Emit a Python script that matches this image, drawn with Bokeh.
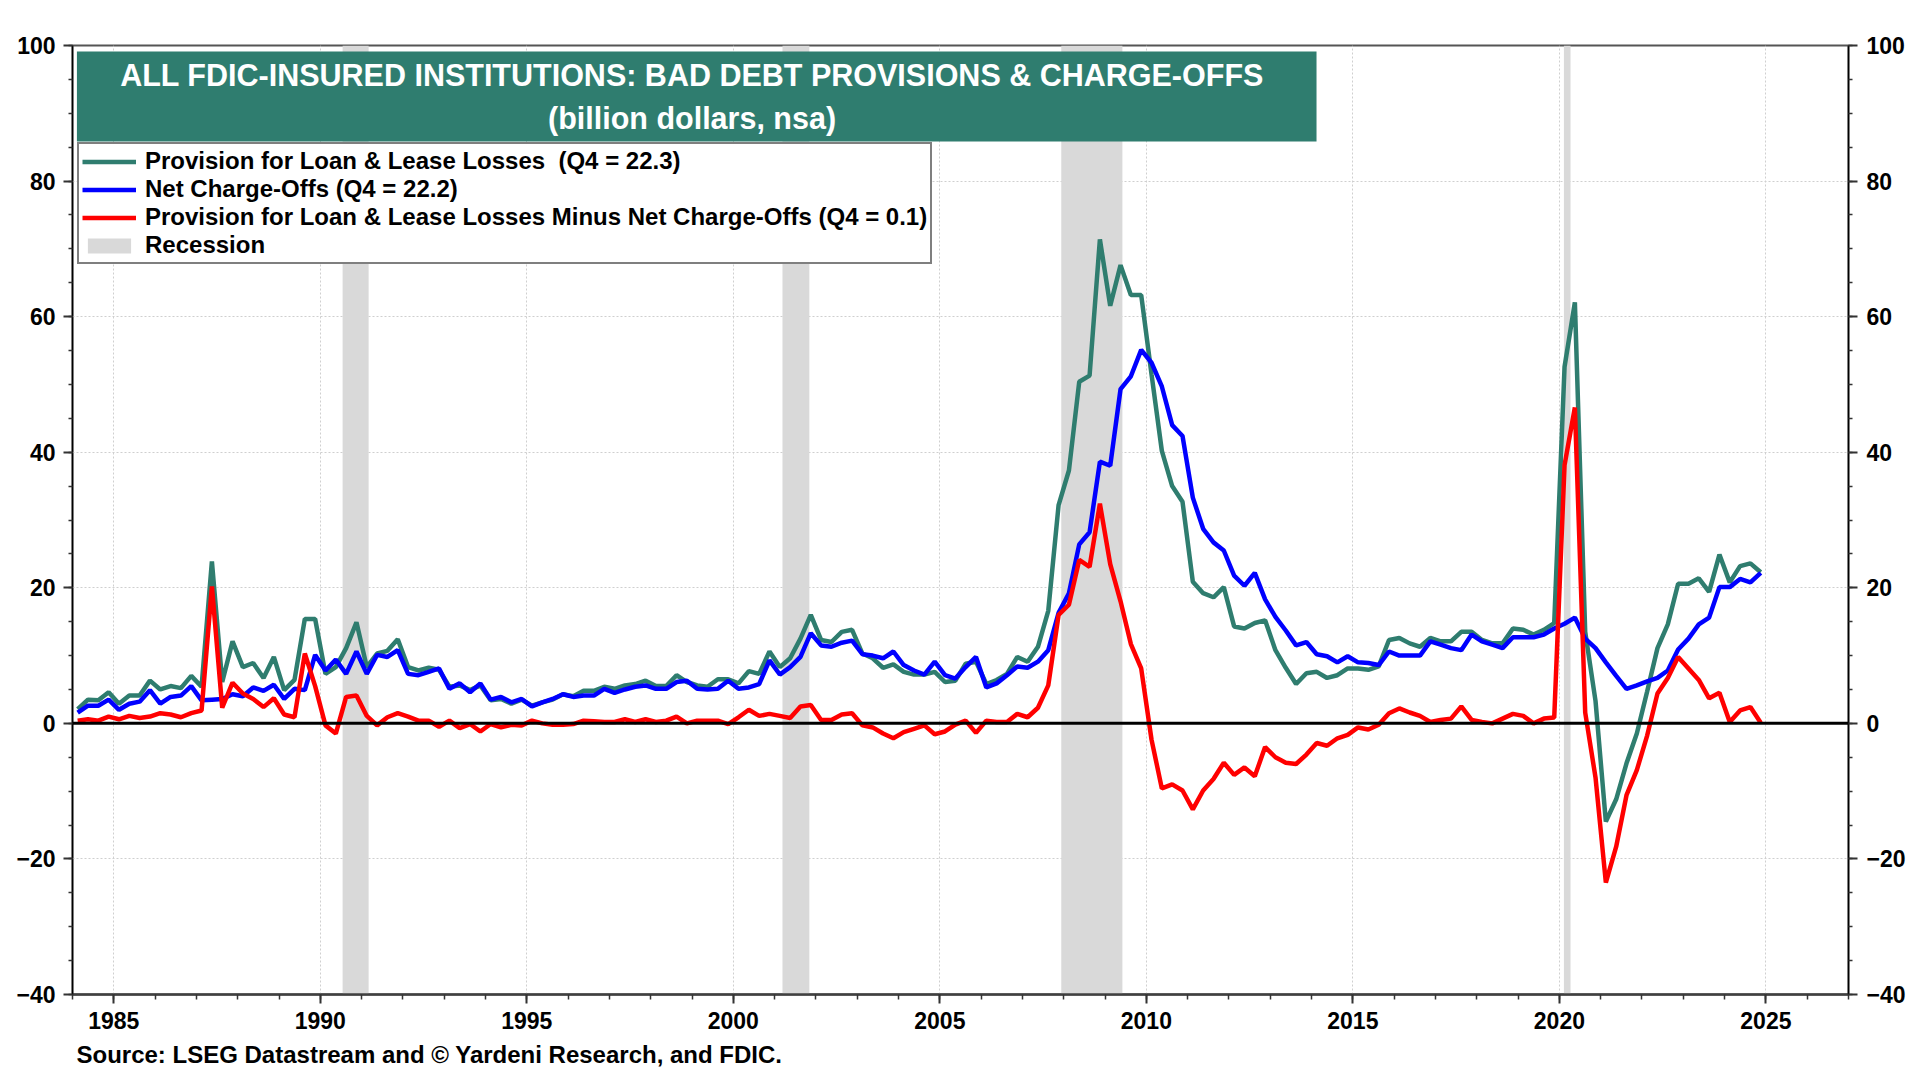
from bokeh.plotting import figure
from bokeh.models import (Range1d, LinearAxis, FixedTicker, Span, BoxAnnotation,
                          Label, Legend, LegendItem, ColumnDataSource, Title)
from bokeh.embed import file_html
from bokeh.resources import INLINE

# ---------------- data (billion dollars, quarterly 1984Q1 .. 2024Q4) ----------------
start_year = 1984
quarters = [f"{start_year + i // 4}Q{i % 4 + 1}" for i in range(164)]

provision = [
    2.1, 3.5, 3.4, 4.6, 2.9, 4.1, 4.1, 6.3, 5.0, 5.5, 5.2, 7.0, 5.4, 23.9, 6.1, 12.1,
    8.3, 8.9, 6.7, 9.8, 4.9, 6.4, 15.4, 15.4, 7.3, 8.3, 11.1, 14.9, 8.3, 10.3, 10.7, 12.4,
    8.3, 7.8, 8.2, 7.9, 5.4, 5.6, 4.9, 5.6, 3.4, 3.6, 2.9, 3.5, 2.6, 3.1, 3.5, 4.3,
    4.0, 4.8, 4.8, 5.4, 5.1, 5.6, 5.8, 6.3, 5.5, 5.5, 7.1, 6.1, 5.6, 5.4, 6.5, 6.5,
    5.9, 7.7, 7.3, 10.6, 8.3, 9.6, 12.5, 16.0, 12.3, 12.0, 13.5, 13.8, 10.3, 9.6, 8.2, 8.7,
    7.6, 7.2, 7.2, 7.6, 6.1, 6.3, 8.8, 9.1, 5.8, 6.4, 7.3, 9.8, 9.1, 11.3, 16.6, 32.2,
    37.3, 50.4, 51.3, 71.4, 61.6, 67.6, 63.2, 63.2, 51.5, 40.2, 35.0, 32.7, 20.9, 19.2, 18.6, 20.1,
    14.3, 14.0, 14.8, 15.2, 10.8, 8.2, 5.8, 7.4, 7.6, 6.7, 7.1, 8.1, 8.1, 7.9, 8.4, 12.3,
    12.6, 11.8, 11.3, 12.6, 12.1, 12.1, 13.5, 13.5, 12.3, 11.8, 11.8, 14.0, 13.8, 13.1, 13.8, 14.8,
    52.6, 62.1, 13.5, 3.3, -14.5, -11.2, -5.9, -1.5, 4.7, 11.1, 14.6, 20.6, 20.6, 21.4, 19.4, 24.9,
    20.8, 23.2, 23.6, 22.3,
]

charge_offs = [
    1.6, 2.6, 2.6, 3.5, 2.0, 2.9, 3.2, 4.9, 2.9, 3.9, 4.1, 5.5, 3.4, 3.5, 3.6, 4.3,
    4.0, 5.3, 4.8, 5.7, 3.6, 5.1, 4.9, 10.1, 7.8, 9.4, 7.3, 10.6, 7.3, 10.1, 9.8, 10.8,
    7.3, 7.1, 7.6, 8.1, 5.1, 5.9, 4.6, 5.9, 3.5, 3.9, 3.1, 3.6, 2.5, 3.1, 3.6, 4.3,
    3.9, 4.1, 4.1, 5.1, 4.5, 5.0, 5.4, 5.6, 5.1, 5.1, 6.1, 6.3, 5.1, 5.0, 5.1, 6.3,
    5.1, 5.3, 5.8, 9.3, 7.2, 8.3, 9.8, 13.3, 11.5, 11.3, 11.9, 12.2, 10.2, 10.0, 9.6, 10.6,
    8.6, 7.8, 7.2, 9.1, 7.1, 6.6, 8.3, 9.8, 5.3, 5.9, 7.1, 8.4, 8.2, 9.1, 10.8, 16.3,
    19.2, 26.4, 28.2, 38.6, 38.0, 49.3, 51.2, 55.1, 53.2, 49.7, 44.0, 42.4, 33.3, 28.7, 26.7, 25.5,
    21.8, 20.3, 22.2, 18.3, 15.7, 13.7, 11.5, 12.0, 10.2, 9.9, 9.0, 9.9, 9.0, 8.9, 8.6, 10.6,
    10.0, 10.0, 10.0, 12.1, 11.6, 11.1, 10.8, 13.1, 12.1, 11.6, 11.1, 12.7, 12.7, 12.7, 13.1, 14.0,
    14.7, 15.6, 12.5, 11.1, 9.0, 7.0, 5.1, 5.6, 6.2, 6.7, 7.8, 10.9, 12.5, 14.6, 15.6, 20.1,
    20.1, 21.3, 20.8, 22.2,
]

difference = [
    0.4, 0.6, 0.4, 1.0, 0.6, 1.1, 0.8, 1.0, 1.5, 1.3, 0.9, 1.5, 1.9, 20.2, 2.3, 6.0,
    4.4, 3.6, 2.4, 3.7, 1.3, 0.9, 10.3, 5.5, -0.3, -1.5, 3.9, 4.1, 1.1, -0.3, 0.9, 1.5,
    1.0, 0.4, 0.4, -0.5, 0.4, -0.7, -0.1, -1.2, -0.1, -0.6, -0.2, -0.3, 0.4, 0.0, -0.2, -0.2,
    -0.1, 0.4, 0.3, 0.2, 0.2, 0.6, 0.2, 0.6, 0.2, 0.4, 1.0, 0.0, 0.4, 0.4, 0.4, -0.1,
    0.9, 2.0, 1.1, 1.4, 1.1, 0.8, 2.5, 2.7, 0.5, 0.5, 1.3, 1.5, -0.3, -0.6, -1.5, -2.2,
    -1.3, -0.8, -0.3, -1.6, -1.2, -0.2, 0.4, -1.4, 0.4, 0.2, 0.2, 1.4, 0.9, 2.3, 5.6, 16.0,
    17.5, 24.1, 23.1, 32.4, 23.5, 18.0, 11.7, 8.1, -2.4, -9.6, -9.0, -9.9, -12.7, -9.9, -8.2, -5.8,
    -7.6, -6.5, -7.8, -3.5, -5.0, -5.8, -6.0, -4.6, -2.9, -3.3, -2.2, -1.7, -0.6, -0.9, -0.2, 1.5,
    2.2, 1.6, 1.1, 0.2, 0.5, 0.7, 2.5, 0.5, 0.2, 0.0, 0.7, 1.4, 1.1, 0.0, 0.7, 0.85,
    38.1, 46.6, 1.6, -8.0, -23.5, -18.2, -10.6, -6.9, -1.8, 4.4, 6.7, 9.8, 8.1, 6.4, 3.7, 4.5,
    0.2, 1.9, 2.4, 0.1,
]

# recessions (decimal years)
rec_start = [1990.54, 2001.19, 2007.94, 2020.11]
rec_end = [1991.17, 2001.84, 2009.42, 2020.27]

x_tick_years = [1985, 1990, 1995, 2000, 2005, 2010, 2015, 2020, 2025]
y_ticks = [-40, -20, 0, 20, 40, 60, 80, 100]

legend_labels = [
    "Provision for Loan & Lease Losses  (Q4 = 22.3)",
    "Net Charge-Offs (Q4 = 22.2)",
    "Provision for Loan & Lease Losses Minus Net Charge-Offs (Q4 = 0.1)",
    "Recession",
]
title_line1 = "ALL FDIC-INSURED INSTITUTIONS: BAD DEBT PROVISIONS & CHARGE-OFFS"
title_line2 = "(billion dollars, nsa)"
source_text = "Source: LSEG Datastream and \u00a9 Yardeni Research, and FDIC."

# ---------------- styling ----------------
FONT = "Liberation Sans"
TEAL = "#2F7D6F"
BLUE = "#0000FF"
RED = "#FF0000"
REC = "#D9D9D9"

def qpos(q):
    y, n = q.split("Q")
    return int(y) + (int(n) - 1) / 4 + 0.125

xs = [qpos(q) for q in quarters]
src = ColumnDataSource(dict(x=xs, prov=provision, nco=charge_offs, diff=difference))
rec_src = ColumnDataSource(dict(left=rec_start, right=rec_end,
                                bottom=[-40] * len(rec_start), top=[100] * len(rec_start)))

p = figure(width=1920, height=1080, x_range=Range1d(1984, 2027), y_range=Range1d(-40, 100),
           output_backend="svg", toolbar_location=None,
           min_border_left=72, min_border_right=72, min_border_top=45, min_border_bottom=86,
           background_fill_color="white", border_fill_color="white")

p.outline_line_color = "#555555"
p.outline_line_width = 2

# grids
p.xgrid.ticker = FixedTicker(ticks=x_tick_years)
p.ygrid.ticker = FixedTicker(ticks=y_ticks)
for g in (p.xgrid, p.ygrid):
    g.grid_line_color = "#CFCFCF"
    g.grid_line_dash = "2 2"
    g.grid_line_width = 1

def style_axis(ax):
    ax.major_label_text_font = FONT
    ax.major_label_text_font_style = "bold"
    ax.major_label_text_font_size = "23px"
    ax.major_label_text_color = "black"
    ax.major_tick_in = 0
    ax.minor_tick_in = 0
    ax.major_tick_line_color = "#333333"
    ax.minor_tick_line_color = "#333333"
    ax.major_tick_line_width = 2
    ax.minor_tick_line_width = 1.5

# bottom axis
xax = p.xaxis[0]
xax.ticker = FixedTicker(ticks=x_tick_years, minor_ticks=list(range(1984, 2028)))
style_axis(xax)
xax.major_tick_out = 9
xax.minor_tick_out = 5
xax.major_label_standoff = 8
xax.axis_line_color = "#404040"
xax.axis_line_width = 2.5

# source note below the x axis
p.add_layout(Title(text=source_text, align="left", offset=4, standoff=14,
                   text_font=FONT, text_font_style="bold", text_font_size="24px",
                   text_color="black"), "below")

# left axis
yax = p.yaxis[0]
yax.ticker = FixedTicker(ticks=y_ticks, minor_ticks=list(range(-40, 101, 5)))
style_axis(yax)
yax.major_tick_out = 9
yax.minor_tick_out = 4
yax.major_label_standoff = 8
yax.axis_line_color = "black"
yax.axis_line_width = 1.5

# right axis
rax = LinearAxis(ticker=FixedTicker(ticks=y_ticks, minor_ticks=list(range(-40, 101, 5))))
style_axis(rax)
rax.major_tick_out = 9
rax.minor_tick_out = 4
rax.major_label_standoff = 9
rax.axis_line_color = "black"
rax.axis_line_width = 1.5
p.add_layout(rax, "right")

# recession shading
rec_r = p.quad(left="left", right="right", bottom="bottom", top="top", source=rec_src,
               fill_color=REC, line_color=None)

# series
r_prov = p.line("x", "prov", source=src, line_color=TEAL, line_width=4.5)
r_nco = p.line("x", "nco", source=src, line_color=BLUE, line_width=4.5)
r_diff = p.line("x", "diff", source=src, line_color=RED, line_width=4.5)

# zero line
p.add_layout(Span(location=0, dimension="width", line_color="black", line_width=3))

# title box
p.add_layout(BoxAnnotation(left=1984.107, right=2014.12, bottom=85.82, top=99.11,
                           fill_color=TEAL, fill_alpha=1.0, line_color=None))
p.add_layout(Label(x=1999.0, y=95.67, text=title_line1, text_align="center",
                   text_baseline="alphabetic", text_color="white", text_font=FONT,
                   text_font_style="bold", text_font_size="30.5px"))
p.add_layout(Label(x=1999.0, y=89.37, text=title_line2, text_align="center",
                   text_baseline="alphabetic", text_color="white", text_font=FONT,
                   text_font_style="bold", text_font_size="30.5px"))

# legend
legend = Legend(items=[
    LegendItem(label=legend_labels[0], renderers=[r_prov]),
    LegendItem(label=legend_labels[1], renderers=[r_nco]),
    LegendItem(label=legend_labels[2], renderers=[r_diff]),
    LegendItem(label=legend_labels[3], renderers=[rec_r]),
], location=(5, 730))
legend.border_line_color = "black"
legend.border_line_width = 2.5
legend.background_fill_color = "white"
legend.background_fill_alpha = 1.0
legend.label_text_font = FONT
legend.label_text_font_style = "bold"
legend.label_text_font_size = "24px"
legend.label_text_color = "black"
legend.glyph_width = 54
legend.glyph_height = 19
legend.label_height = 19
legend.label_standoff = 9
legend.padding = 3
legend.spacing = 0
legend.margin = 0
p.add_layout(legend)

open("out.html", "w").write(file_html(p, INLINE))
